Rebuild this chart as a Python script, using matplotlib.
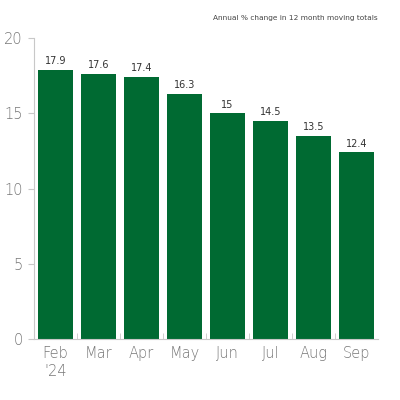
import matplotlib
matplotlib.use("Agg")
from matplotlib import pyplot as plt
from matplotlib.ticker import FixedLocator

months = ["Feb\n'24", "Mar", "Apr", "May", "Jun", "Jul", "Aug", "Sep"]
values = [17.9, 17.6, 17.4, 16.3, 15, 14.5, 13.5, 12.4]
labels = ["17.9", "17.6", "17.4", "16.3", "15", "14.5", "13.5", "12.4"]

green = "#006a32"
gray = "#c8c8c8"
narrow = ["Liberation Sans Narrow", "DejaVu Sans"]

fig = plt.figure(figsize=(4, 4), dpi=100)
ax = fig.add_axes([0.085, 0.152, 0.86, 0.753])

x = list(range(len(months)))
ax.bar(x, values, width=0.8, color=green)
for xi, v, lab in zip(x, values, labels):
    ax.text(xi, v + 0.25, lab, ha="center", va="bottom", fontsize=7,
            color="#333333", family=narrow)

ax.set_xlim(-0.5, 7.5)
ax.set_ylim(0, 20)
ax.set_yticks([0, 5, 10, 15, 20])
ax.set_xticks(x)
ax.set_xticklabels(months)
ax.xaxis.set_minor_locator(FixedLocator([i + 0.5 for i in range(7)]))
ax.tick_params(axis="x", which="major", length=0, pad=5, labelsize=10.5, labelcolor="#777777")
ax.tick_params(axis="x", which="minor", direction="in", length=4, color=gray)
ax.tick_params(axis="y", length=4, color=gray, labelsize=10.5, labelcolor="#777777", pad=4)
for t in ax.get_xticklabels() + ax.get_yticklabels():
    t.set_fontweight("light")

for s in ["top", "right"]:
    ax.spines[s].set_visible(False)
ax.spines["left"].set_color(gray)
ax.spines["bottom"].set_color(gray)

fig.text(0.945, 0.955, "Annual % change in 12 month moving totals", ha="right", va="center",
         fontsize=5.3, color="#444444", family=narrow)

fig.savefig("out.png", dpi=100)
